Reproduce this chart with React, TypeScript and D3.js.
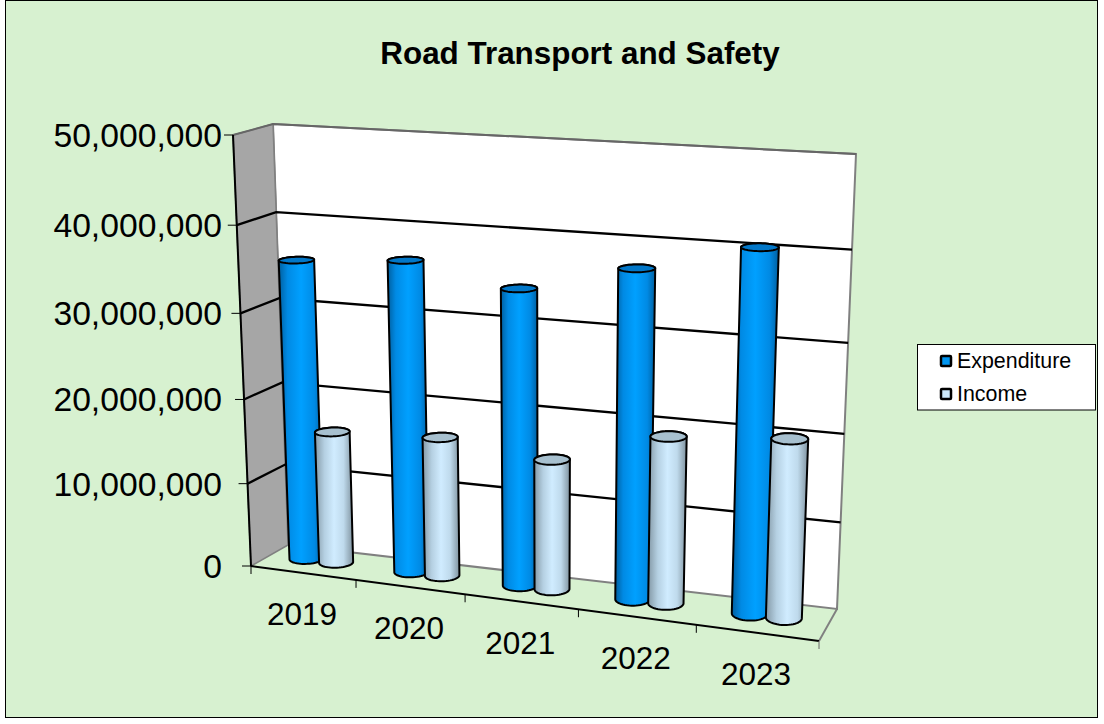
import React from "react";
import * as d3 from "d3";

const categories = ["2019", "2020", "2021", "2022", "2023"];
const seriesNames = ["Expenditure", "Income"];
const expenditure = [35500000, 36400000, 34200000, 37350000, 40500000];
const income = [15800000, 16450000, 15200000, 19150000, 20200000];
const yTicks = [0, 10000000, 20000000, 30000000, 40000000, 50000000];

type P = [number, number];
const FRONT: P[] = [[251, 566], [819, 641], [836, 168], [233, 135]];
const BACK: P[] = [[288, 545], [837, 609], [856, 154], [273, 124]];

// unit square to quadrilateral (p0:0,0 p1:1,0 p2:1,1 p3:0,1)
function homography(q: P[]) {
  const [[x0, y0], [x1, y1], [x2, y2], [x3, y3]] = q;
  const dx1 = x1 - x2, dx2 = x3 - x2, sx = x0 - x1 + x2 - x3;
  const dy1 = y1 - y2, dy2 = y3 - y2, sy = y0 - y1 + y2 - y3;
  const den = dx1 * dy2 - dx2 * dy1;
  const g = (sx * dy2 - dx2 * sy) / den;
  const h = (dx1 * sy - sx * dy1) / den;
  const a = x1 - x0 + g * x1, b = x3 - x0 + h * x3, c = x0;
  const d = y1 - y0 + g * y1, e = y3 - y0 + h * y3, f = y0;
  return (u: number, v: number): P => {
    const w = g * u + h * v + 1;
    return [(a * u + b * v + c) / w, (d * u + e * v + f) / w];
  };
}
const hF = homography(FRONT);
const hB = homography(BACK);
const project = (u: number, v: number, t: number): P => {
  const a = hF(u, v), b = hB(u, v);
  return [a[0] + (b[0] - a[0]) * t, a[1] + (b[1] - a[1]) * t];
};

const xBand = d3.scaleBand<string>().domain(categories).range([0, 1]);
const yVal = d3.scaleLinear().domain([0, 50000000]).range([0, 1]);
const fmt = d3.format(",");
const poly = (pts: P[]) => d3.line()(pts) + "";
const BG = "#d7f1d0";
const SERIES_OFFSET = [0.342, 0.628];
const RU = 0.029, RD = 0.22;
const DC = 0.55;

function circle(uc: number, v: number): P[] {
  return d3.range(48).map((i) => {
    const a = (i / 48) * Math.PI * 2;
    return project(uc + RU * Math.cos(a), v, DC + RD * Math.sin(a));
  });
}

function Cyl({ cat, val, s }: { cat: string; val: number; s: number }) {
  const uc = (xBand(cat) as number) + xBand.bandwidth() * SERIES_OFFSET[s];
  const top = circle(uc, yVal(val));
  const bottom = circle(uc, 0);
  const hull = d3.polygonHull([...top, ...bottom]) as P[];
  return (
    <g stroke="#000" strokeWidth={2} strokeLinejoin="round">
      <path d={poly(hull) + "Z"} fill={`url(#grad${s})`} />
      <path d={poly(top) + "Z"} fill={s === 0 ? "#0277c8" : "#a7c0cf"} />
    </g>
  );
}

export default function App() {
  const gridPaths = yTicks.map((t) => {
    const v = yVal(t);
    return [project(0, v, 0), project(0, v, 1), project(1, v, 1)];
  });
  const boundaries = [...categories.map((c) => xBand(c) as number), 1];
  return (
    <svg width={1104} height={724} style={{ position: "absolute", left: 0, top: 0, fontFamily: "'Liberation Sans', Arial, sans-serif" }}>
      <defs>
        <linearGradient id="grad0" x1="0" x2="1" y1="0" y2="0">
          <stop offset="0" stopColor="#005f9f" />
          <stop offset="0.2" stopColor="#008ae4" />
          <stop offset="0.5" stopColor="#00a0ff" />
          <stop offset="0.8" stopColor="#008ae4" />
          <stop offset="1" stopColor="#005f9f" />
        </linearGradient>
        <linearGradient id="grad1" x1="0" x2="1" y1="0" y2="0">
          <stop offset="0" stopColor="#8499a6" />
          <stop offset="0.25" stopColor="#b5d0e2" />
          <stop offset="0.5" stopColor="#d0ecff" />
          <stop offset="0.75" stopColor="#bfdaec" />
          <stop offset="1" stopColor="#7f929e" />
        </linearGradient>
      </defs>
      <rect x={5.5} y={0.5} width={1092} height={717} fill={BG} stroke="#000" strokeWidth={1} />
      <text x={580} y={64} textAnchor="middle" fontSize={31.4} fontWeight="bold">Road Transport and Safety</text>

      {/* walls */}
      <path d={poly([project(0, 0, 1), project(1, 0, 1), project(1, 1, 1), project(0, 1, 1)]) + "Z"} fill="#fff" stroke="#808080" strokeWidth={2} />
      <path d={poly([project(0, 0, 0), project(0, 0, 1), project(0, 1, 1), project(0, 1, 0)]) + "Z"} fill="#a6a6a6" stroke="#808080" strokeWidth={1.5} />
      <path d={poly([project(1, 0, 0), project(1, 0, 1)])} fill="none" stroke="#808080" strokeWidth={2} />

      {/* gridlines */}
      {gridPaths.slice(1, 5).map((p, i) => (
        <path key={i} d={poly(p)} fill="none" stroke="#000" strokeWidth={2.3} />
      ))}
      <path d={poly(gridPaths[5])} fill="none" stroke="#666" strokeWidth={2} />

      {/* axes */}
      <path d={poly([project(0, 0, 0), project(0, 1, 0)])} stroke="#000" strokeWidth={2} fill="none" />
      <path d={poly([project(0, 0, 0), project(1, 0, 0)])} stroke="#000" strokeWidth={2} fill="none" />
      {yTicks.map((t) => {
        const [x, y] = project(0, yVal(t), 0);
        return (
          <g key={t}>
            <line x1={x - 9} x2={x} y1={y} y2={y} stroke="#000" strokeWidth={1} />
            <text x={222} y={y + 12} textAnchor="end" fontSize={33.7}>{fmt(t)}</text>
          </g>
        );
      })}
      {boundaries.map((u, i) => {
        const [x, y] = project(u, 0, 0);
        return <line key={i} x1={x} x2={x} y1={y} y2={y + 8} stroke={i === 5 ? "#666" : "#000"} strokeWidth={1} />;
      })}
      {categories.map((c) => {
        const [x, y] = project((xBand(c) as number) + xBand.bandwidth() / 2, 0, 0);
        return <text key={c} x={x - 1} y={y + 52} textAnchor="middle" fontSize={31.5}>{c}</text>;
      })}

      {/* cylinders */}
      {categories.map((c, i) => (
        <g key={c}>
          <Cyl cat={c} val={expenditure[i]} s={0} />
          <Cyl cat={c} val={income[i]} s={1} />
        </g>
      ))}

      {/* legend */}
      <rect x={917.5} y={344.5} width={178} height={65.5} fill="#fff" stroke="#000" strokeWidth={1} />
      {seriesNames.map((n, i) => {
        const y = 361 + i * 33;
        return (
          <g key={n}>
            <rect x={941} y={y - 5} width={10} height={10} rx={1} fill={i === 0 ? "#0095f0" : "#cce8fb"} stroke="#000" strokeWidth={2.5} />
            <text x={957} y={y + 6.5} fontSize={21.4}>{n}</text>
          </g>
        );
      })}
    </svg>
  );
}
